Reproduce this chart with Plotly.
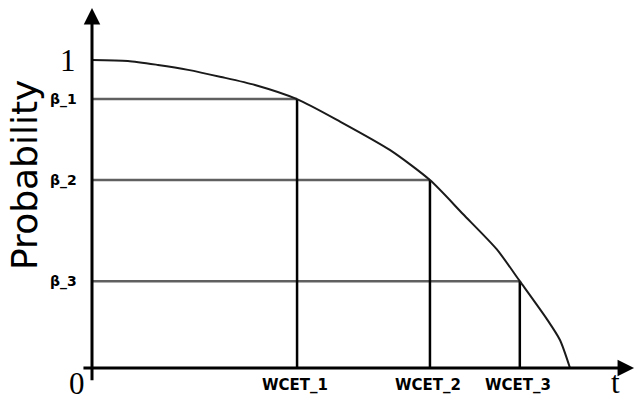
import plotly.graph_objects as go

# curve (t normalised so the curve hits 0 at t=1)
curve_t = [0, 0.075, 0.138, 0.201, 0.270, 0.341, 0.429, 0.519, 0.623, 0.707, 0.776, 0.847, 0.895, 0.952, 0.979, 1.0]
curve_p = [1.0, 0.997, 0.984, 0.968, 0.945, 0.919, 0.873, 0.800, 0.708, 0.610, 0.500, 0.385, 0.282, 0.158, 0.091, 0.0]

wcet_t = [0.429, 0.707, 0.895]
beta_p = [0.873, 0.610, 0.282]
wcet_labels = ["WCET_1", "WCET_2", "WCET_3"]
beta_labels = ["β_1", "β_2", "β_3"]

fig = go.Figure()

# horizontal guides from the axis to the curve
for t, p in zip(wcet_t, beta_p):
    fig.add_trace(go.Scatter(x=[0, t], y=[p, p], mode="lines",
                             line=dict(color="#606060", width=2.5), hoverinfo="skip"))
# vertical guides from the curve down to the axis
for t, p in zip(wcet_t, beta_p):
    fig.add_trace(go.Scatter(x=[t, t], y=[0, p], mode="lines",
                             line=dict(color="black", width=2.5), hoverinfo="skip"))

fig.add_trace(go.Scatter(x=curve_t, y=curve_p, mode="lines",
                         line=dict(color="#1a1a1a", width=2, shape="spline", smoothing=0.7),
                         hoverinfo="skip"))

# axes with arrow heads
fig.add_annotation(x=0, y=1.169, ax=0, ay=-0.045, xref="x", yref="y", axref="x", ayref="y",
                   text="", showarrow=True, arrowhead=2, arrowsize=1.1, arrowwidth=3,
                   arrowcolor="black", standoff=0)
fig.add_annotation(x=1.134, y=0, ax=-0.021, ay=0, xref="x", yref="y", axref="x", ayref="y",
                   text="", showarrow=True, arrowhead=2, arrowsize=1.1, arrowwidth=3,
                   arrowcolor="black", standoff=0)

serif = dict(family="Liberation Serif", size=31, color="black")
fig.add_annotation(x=-0.05, y=1.0, text="1", showarrow=False, font=serif)
fig.add_annotation(x=-0.031, y=-0.050, text="0", showarrow=False, font=serif)
fig.add_annotation(x=1.096, y=-0.046, text="t", showarrow=False, font=serif)

fig.add_annotation(x=-0.14, y=0.627, text="Probability", textangle=-90, showarrow=False,
                   font=dict(family="DejaVu Sans", size=36, color="black"))

for t, lab in zip(wcet_t, wcet_labels):
    fig.add_annotation(x=t - 0.004, y=-0.055, text=lab, showarrow=False,
                       font=dict(family="DejaVu Sans", size=15, color="black", weight="bold"))
for p, lab in zip(beta_p, beta_labels):
    fig.add_annotation(x=-0.06, y=p, text=lab, showarrow=False,
                       font=dict(family="DejaVu Sans", size=14, color="black", weight="bold"))

fig.update_layout(
    width=636, height=400,
    margin=dict(l=0, r=0, t=0, b=0),
    paper_bgcolor="white", plot_bgcolor="white",
    showlegend=False,
    xaxis=dict(range=[-92 / 478, 544 / 478], visible=False, fixedrange=True),
    yaxis=dict(range=[-32 / 308, 368 / 308], visible=False, fixedrange=True),
)

fig.write_html("out.html", config={"displayModeBar": False},
               post_script="document.body.style.margin='0';")
